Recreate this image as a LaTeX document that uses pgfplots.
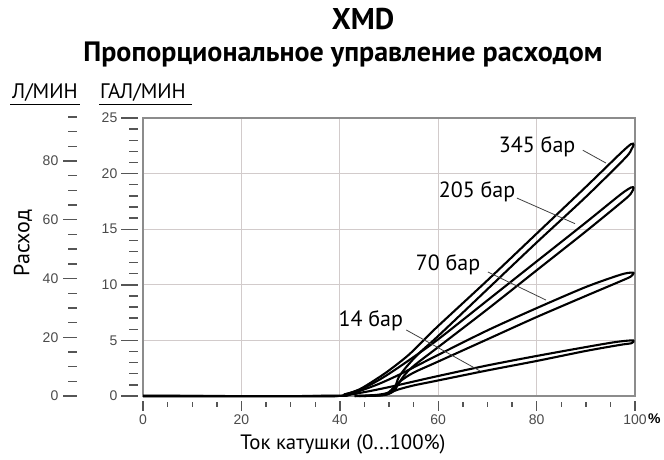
\documentclass[border=0pt]{standalone}
\usepackage{fontspec}
\setmainfont{PT Sans}
\newfontfamily\numfont{Liberation Sans}
\usepackage{pgfplots}
\pgfplotsset{compat=1.18}

\definecolor{framegray}{HTML}{8C8C8C}
\definecolor{gridgray}{HTML}{D2CBCB}
\definecolor{tickgray}{HTML}{555555}
\definecolor{labgray}{HTML}{4A4A4A}

% all axes share the same box, 1px of the reference = 1pt
\pgfplotsset{
  base/.style={
    at={(143pt,63pt)}, anchor=south west,
    scale only axis, width=492pt, height=278pt,
    xmin=0, xmax=100, ymin=0, ymax=25,
  },
  onlyticks/.style={
    axis line style={draw=none},
    tick align=outside,
    tick style={tickgray, line width=1.4pt},
    ticklabel style={font=\numfont\fontsize{14}{14}\selectfont, text=labgray},
    /pgf/number format/assume math mode=true,
  },
  loop/.style={black, line width=2.1pt, smooth},
}

\begin{document}
\begin{tikzpicture}
\useasboundingbox (0,0) rectangle (664pt,459pt);

% titles
\node[anchor=base] at (363pt,429pt) {\fontsize{30}{30}\selectfont\bfseries XMD};
\node[anchor=base] at (343pt,397pt) {\fontsize{28}{28}\selectfont\bfseries Пропорциональное управление расходом};

% unit headers
\node[anchor=base west, inner sep=0] at (12pt,360pt) {\fontsize{21}{21}\selectfont Л/МИН};
\node[anchor=base west, inner sep=0] at (100pt,360pt) {\fontsize{21}{21}\selectfont ГАЛ/МИН};
\draw[line width=1pt] (10pt,355pt) -- (80pt,355pt);
\draw[line width=1pt] (99pt,355pt) -- (192pt,355pt);

\node[rotate=90] at (23pt,216pt) {\fontsize{22}{22}\selectfont Расход};
\node[anchor=base] at (343pt,10pt) {\fontsize{20.8}{20.8}\selectfont Ток катушки (0...100\%)};
\node[anchor=base west, inner sep=0] at (648pt,36pt) {\numfont\fontsize{14}{14}\selectfont\bfseries \%};

% main frame, grid, current tick labels and curves
\begin{axis}[base,
    axis line style={framegray, line width=1.3pt},
    xtick={0,20,...,100},
    ytick={5,10,15,20}, yticklabels={},
    major tick length=0pt,
    xticklabel style={font=\numfont\fontsize{14}{14}\selectfont, text=labgray,
                      inner sep=2pt, yshift=-17pt},
    /pgf/number format/assume math mode=true,
    grid=major, grid style={gridgray, line width=0.9pt},
    clip=false,
]
\addplot[loop] coordinates {
 (0,0) (38,0) (41,0.15) (44,0.6) (47,1.4) (50,2.3) (54,3.7) (57.7,5.3) (60,6.3)
 (70,10.4) (80,14.6) (90,18.8) (97,21.8) (99.2,22.65) (99.7,22.6) (99.3,22.2)
 (98,21.4) (90,17.9) (80,13.8) (70,9.6) (60,5.4) (56,3.8) (53.5,2.6) (52,1.7)
 (51.3,0.9) (50.5,0.35) (49,0.1) (46,0.02) (43,0)};
\addplot[loop] coordinates {
 (0,0) (38,0) (41,0.15) (44,0.55) (47,1.2) (50,2.0) (54,3.2) (60,5.1) (70,8.6)
 (80,12.1) (90,15.6) (97,18.1) (99.2,18.75) (99.7,18.7) (99.3,18.3) (98,17.7)
 (90,14.8) (80,11.3) (70,7.8) (60,4.4) (55,2.7) (53,1.8) (51.8,1.0) (51,0.45)
 (49.5,0.12) (47,0.02) (44,0)};
\addplot[loop] coordinates {
 (0,0) (38,0) (41,0.1) (44,0.45) (48,1.1) (52,1.9) (56,2.8) (60,3.7) (70,5.9)
 (80,7.9) (90,9.8) (97,10.9) (99.2,11.1) (99.7,11.05) (99.3,10.8) (98,10.5)
 (90,9.0) (80,7.1) (70,5.1) (60,3.1) (55,2.1) (52.5,1.4) (51,0.8) (50,0.35)
 (48.5,0.1) (45,0)};
\addplot[loop] coordinates {
 (0,0) (38,0) (41,0.08) (45,0.35) (50,0.8) (55,1.3) (60,1.8) (70,2.75) (80,3.6)
 (90,4.4) (96,4.85) (99.2,5.0) (99.7,4.95) (99.3,4.75) (97,4.6) (90,4.05)
 (80,3.15) (70,2.3) (60,1.4) (55,0.95) (52,0.6) (50,0.3) (47.5,0.1) (43,0)};

% current tick marks, hanging below the frame with a small gap
\pgfplotsinvokeforeach{0,20,40,60,80,100}{
  \draw[tickgray, line width=1.4pt] (axis cs:#1,0) ++(0,-5pt) -- ++(0,-10pt);}
\pgfplotsinvokeforeach{5,10,15,25,30,35,45,50,55,65,70,75,85,90,95}{
  \draw[tickgray, line width=1.4pt] (axis cs:#1,0) ++(0,-6pt) -- ++(0,-5pt);}

% pressure labels with leader lines
\begin{scope}[every node/.style={font=\fontsize{22}{22}\selectfont, inner sep=1pt}]
\node at (axis cs:80.1,22.4) {345 бар};
\node at (axis cs:67.9,18.4) {205 бар};
\node at (axis cs:62.0,11.8) {70 бар};
\node at (axis cs:46.3,6.8) {14 бар};
\end{scope}
\draw[black!75, line width=0.8pt] (axis cs:89.4,22.1) -- (axis cs:94.1,20.95);
\draw[black!75, line width=0.8pt] (axis cs:76.0,17.8) -- (axis cs:87.8,15.5);
\draw[black!75, line width=0.8pt] (axis cs:70.1,11.15) -- (axis cs:81.9,8.63);
\draw[black!75, line width=0.8pt] (axis cs:53.5,5.94) -- (axis cs:68.5,2.25);
\end{axis}

% gallons per minute ticks, set off from the frame
\begin{axis}[base, onlyticks, xshift=-5pt,
    xtick=\empty, ytick pos=left,
    ytick={0,5,...,25}, minor ytick={1,2,...,24},
    major tick length=17pt, minor tick length=9pt,
    yticklabel style={inner sep=3.5pt},
]
\end{axis}

% litres per minute ticks
\begin{axis}[base, onlyticks, xshift=-66pt, ymax=95, height=279pt,
    xtick=\empty, ytick pos=left,
    ytick={0,20,...,80}, minor ytick={5,10,...,95},
    major tick length=14pt, minor tick length=9pt,
    yticklabel style={inner sep=4.5pt},
]
\end{axis}
\end{tikzpicture}
\end{document}
